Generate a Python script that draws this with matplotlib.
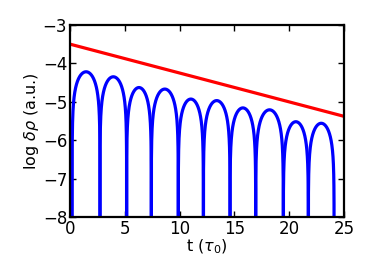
import numpy as np
import matplotlib
matplotlib.use("Agg")
import matplotlib.pyplot as plt

# zeros of the oscillation (t in tau_0) and peak heights of each lobe
zeros_t = [0.2, 2.74, 5.17, 7.42, 9.88, 12.17, 14.6, 16.94, 19.46, 21.74, 24.09]
peak_log = [-4.22, -4.35, -4.63, -4.67, -4.93, -4.97, -5.16, -5.21, -5.52, -5.56]

# red envelope line
env_t = [0.0, 25.0]
env_log = [-3.5, -5.38]

plt.rcParams['font.family'] = ['DejaVu Sans']
plt.rcParams['mathtext.fontset'] = 'dejavusans'

fig = plt.figure(figsize=(3.74, 2.80), dpi=100)
ax = fig.add_axes([0.187, 0.225, 0.733, 0.686])

# each lobe drawn as a log|sin| arch between two zeros
for i in range(len(peak_log)):
    t = np.linspace(zeros_t[i], zeros_t[i + 1], 400)
    u = (t - zeros_t[i]) / (zeros_t[i + 1] - zeros_t[i])
    y = peak_log[i] + np.log10(np.clip(np.sin(np.pi * u), 1e-12, None))
    ax.plot(t, y, color='blue', lw=2.3, solid_capstyle='butt')

ax.plot(env_t, env_log, color='red', lw=2.3)

ax.set_xlim(0, 25)
ax.set_ylim(-8, -3)
ax.set_xticks([0, 5, 10, 15, 20, 25])
ax.set_yticks([-8, -7, -6, -5, -4, -3])
ax.tick_params(direction='in', top=True, right=True, length=4, width=1,
               labelsize=12, pad=2)
for s in ax.spines.values():
    s.set_linewidth(1.6)

ax.set_xlabel(r't ($\tau_0$)', fontsize=11.5, labelpad=0)
ax.set_ylabel(r'$\log\,\delta\rho$ (a.u.)', fontsize=11.5, labelpad=1)

fig.savefig('out.png', dpi=100)
